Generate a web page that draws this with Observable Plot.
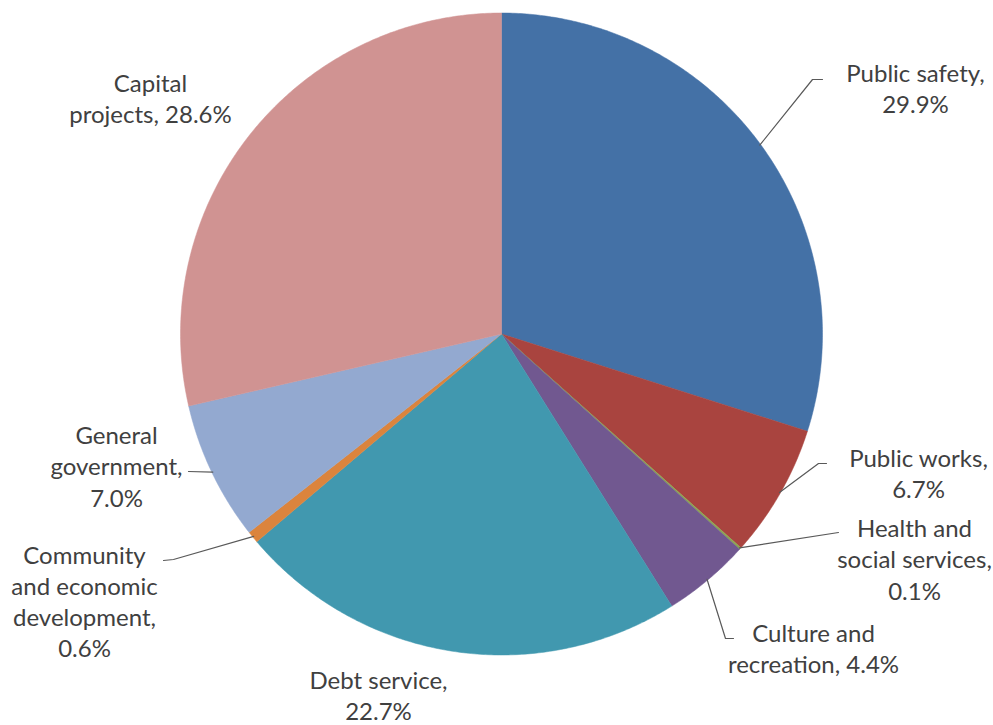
<!DOCTYPE html>
<html>
<head>
<meta charset="utf-8">
<script src="https://cdn.jsdelivr.net/npm/d3@7"></script>
<script src="https://cdn.jsdelivr.net/npm/@observablehq/plot@0.6"></script>
<style>
  html, body { margin: 0; padding: 0; background: #fff; }
  #chart { width: 993px; height: 725px; }
</style>
</head>
<body>
<div id="chart"></div>
<script>
// ---- data ----
const categories = [
  "Public safety", "Public works", "Health and\nsocial services", "Culture and\nrecreation",
  "Debt service", "Community\nand economic\ndevelopment", "General\ngovernment", "Capital\nprojects"
];
const shares = [29.9, 6.7, 0.1, 4.4, 22.7, 0.6, 7.0, 28.6];
const colors = ["#4471A6", "#A9443F", "#8CA552", "#715890", "#4198AF", "#DB843D", "#93A9D0", "#D09392"];

// ---- layout (pixels) ----
const W = 993, H = 725;
const cx = 501, cy = 333.5, R = 321;
const valueSep = ["\n", "\n", "\n", " ", "\n", "\n", "\n", " "];
const labelAt = [ // block centers
  [915, 87], [918, 472], [914, 558], [813, 647], [378, 694], [84, 600], [116, 465], [150, 97]
];
const leaderVia = [ // elbow and end points of leader lines (null = no leader)
  [[812, 79], [822, 79]],
  [[818, 463], [826, 463]],
  [[838, 532]],
  [[725, 638], [733, 638]],
  null,
  [[173, 559], [163, 560]],
  [[188, 471]],
  null
];

// ---- derived ----
const total = d3.sum(shares);
let acc = 0;
const slices = shares.map((v, i) => {
  const a0 = acc / total * 2 * Math.PI;
  acc += v;
  const a1 = acc / total * 2 * Math.PI;
  return {i, name: categories[i], value: v, a0, a1, mid: (a0 + a1) / 2, color: colors[i]};
});
const pt = (a, r) => [cx + r * Math.sin(a), cy - r * Math.cos(a)];

const polyPts = [];
for (const s of slices) {
  polyPts.push({z: s.i, color: s.color, p: [cx, cy]});
  const n = Math.max(2, Math.ceil((s.a1 - s.a0) / (Math.PI / 360)));
  for (let k = 0; k <= n; k++) {
    polyPts.push({z: s.i, color: s.color, p: pt(s.a0 + (s.a1 - s.a0) * k / n, R)});
  }
  polyPts.push({z: s.i, color: s.color, p: [cx, cy]});
}

const leaderPts = [];
slices.forEach((s, i) => {
  if (!leaderVia[i]) return;
  leaderPts.push({z: i, p: pt(s.mid, R - 1)});
  for (const q of leaderVia[i]) leaderPts.push({z: i, p: q});
});

const labels = slices.map((s, i) => ({
  text: s.name + "," + valueSep[i] + s.value.toFixed(1) + "%",
  p: labelAt[i]
}));

const chart = Plot.plot({
  width: W, height: H,
  margin: 0,
  x: {domain: [0, W], axis: null},
  y: {domain: [H, 0], axis: null},
  color: {type: "identity"},
  style: {fontFamily: "Lato, 'Open Sans', sans-serif", background: "#fff"},
  marks: [
    Plot.line(polyPts, {x: d => d.p[0], y: d => d.p[1], z: "z", fill: "color", stroke: "color", strokeWidth: 0.5, curve: "linear"}),
    Plot.line(leaderPts, {x: d => d.p[0], y: d => d.p[1], z: "z", stroke: "#595959", strokeWidth: 1.2}),
    Plot.text(labels, {x: d => d.p[0], y: d => d.p[1], text: "text", fill: "#404040",
      fontSize: 24, lineHeight: 1.3, textAnchor: "middle", lineAnchor: "middle"})
  ]
});
document.getElementById("chart").appendChild(chart);
</script>
</body>
</html>
